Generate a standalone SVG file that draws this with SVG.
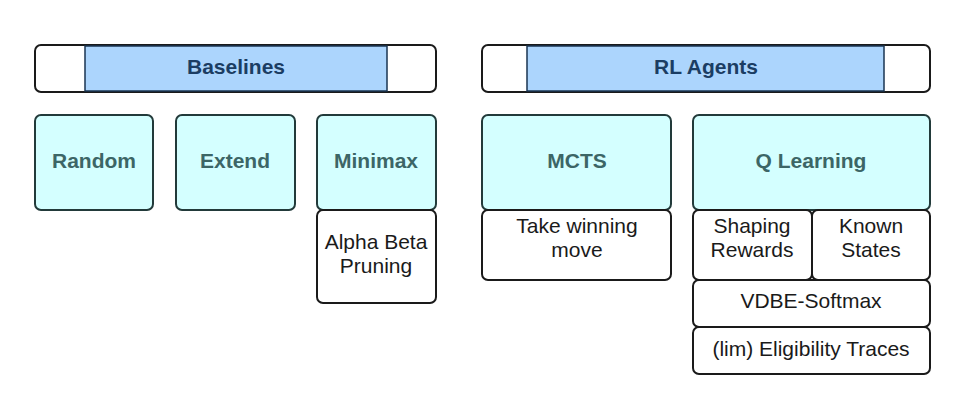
<svg xmlns="http://www.w3.org/2000/svg" width="962" height="416" viewBox="0 0 962 416">
<style>
.frame{fill:#ffffff;stroke:#1a1a1a;stroke-width:2}
.band{fill:#acd5fd;stroke:#1a3552;stroke-width:1.5}
.alg{fill:#d4ffff;stroke:#223a3a;stroke-width:2}
.sub{fill:#ffffff;stroke:#1a1a1a;stroke-width:2}
.h{font-family:"Liberation Sans",Arial,sans-serif;font-weight:bold;font-size:21px;fill:#1b3d63;text-anchor:middle}
.t{font-family:"Liberation Sans",Arial,sans-serif;font-weight:bold;font-size:21px;fill:#3c6666;text-anchor:middle}
.s{font-family:"Liberation Sans",Arial,sans-serif;font-size:21px;fill:#1a1a1a;text-anchor:middle}
</style>
<rect width="962" height="416" fill="#ffffff"/>
<g id="baselines">
<rect class="frame" x="35" y="45" width="401" height="47" rx="6"/>
<rect class="band" x="85" y="46" width="302" height="45"/>
<text class="h" x="236" y="74">Baselines</text>
</g>
<g id="rl-agents">
<rect class="frame" x="482" y="45" width="448" height="47" rx="6"/>
<rect class="band" x="527" y="46" width="357" height="45"/>
<text class="h" x="706" y="74">RL Agents</text>
</g>
<g id="random">
<rect class="alg" x="35" y="115" width="118" height="95" rx="6"/>
<text class="t" x="94" y="168">Random</text>
</g>
<g id="extend">
<rect class="alg" x="176" y="115" width="119" height="95" rx="6"/>
<text class="t" x="235" y="168">Extend</text>
</g>
<g id="minimax">
<rect class="alg" x="317" y="115" width="119" height="95" rx="6"/>
<text class="t" x="376" y="168">Minimax</text>
</g>
<g id="alpha-beta">
<rect class="sub" x="317" y="210" width="119" height="93" rx="6"/>
<text class="s" x="376" y="249">Alpha Beta</text>
<text class="s" x="376" y="273">Pruning</text>
</g>
<g id="mcts">
<rect class="alg" x="482" y="115" width="189" height="95" rx="6"/>
<text class="t" x="577" y="168">MCTS</text>
</g>
<g id="take-winning">
<rect class="sub" x="482" y="210" width="189" height="70" rx="6"/>
<text class="s" x="577" y="233">Take winning</text>
<text class="s" x="577" y="257">move</text>
</g>
<g id="q-learning">
<rect class="alg" x="693" y="115" width="237" height="95" rx="6"/>
<text class="t" x="811" y="168">Q Learning</text>
</g>
<g id="shaping">
<rect class="sub" x="693" y="210" width="119" height="70" rx="6"/>
<text class="s" x="752" y="233">Shaping</text>
<text class="s" x="752" y="257">Rewards</text>
</g>
<g id="known">
<rect class="sub" x="812" y="210" width="118" height="70" rx="6"/>
<text class="s" x="871" y="233">Known</text>
<text class="s" x="871" y="257">States</text>
</g>
<g id="vdbe">
<rect class="sub" x="693" y="280" width="237" height="47" rx="6"/>
<text class="s" x="811" y="308">VDBE-Softmax</text>
</g>
<g id="eligibility">
<rect class="sub" x="693" y="327" width="237" height="47" rx="6"/>
<text class="s" x="811" y="356">(lim) Eligibility Traces</text>
</g>
<g id="connectors"></g>
</svg>
